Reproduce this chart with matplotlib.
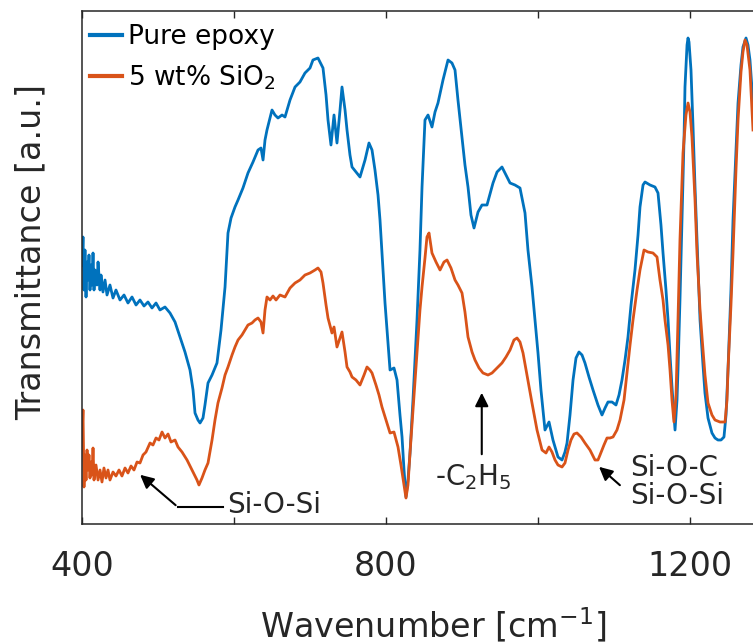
import numpy as np
import matplotlib
matplotlib.use("Agg")
from matplotlib import pyplot as plt

# ---- dati (numero d'onda in cm^-1, trasmittanza in u.a.) ----
w_epoxy = [400.0, 401.3, 402.6, 403.9, 405.3, 406.6, 407.9, 409.2, 410.5, 411.8,
           413.2, 414.5, 415.8, 417.1, 419.7, 421.1, 423.7, 425.0, 427.6, 430.3,
           432.9, 436.8, 440.8, 444.7, 450.0, 455.3, 460.5, 465.8, 471.1, 476.3,
           481.6, 486.8, 492.1, 497.4, 502.6, 509.2, 515.8, 522.4, 528.9, 535.5,
           542.1, 546.1, 548.7, 552.6, 555.3, 559.2, 561.8, 565.8, 571.1, 577.6,
           582.9, 588.2, 592.1, 596.1, 601.3, 605.3, 611.8, 618.4, 625.0, 631.6,
           635.5, 638.2, 640.8, 643.4, 647.4, 650.0, 653.9, 657.9, 663.2, 667.1,
           673.7, 680.3, 686.8, 693.4, 700.0, 703.9, 710.5, 717.1, 721.1, 723.7,
           727.6, 731.6, 735.5, 739.5, 742.1, 746.1, 748.7, 752.6, 755.3, 760.5,
           765.8, 772.4, 777.6, 781.6, 785.5, 789.5, 792.1, 798.7, 805.3, 810.5,
           814.5, 818.4, 821.1, 823.7, 826.3, 828.9, 831.6, 835.5, 840.8, 844.7,
           847.4, 851.3, 855.3, 860.5, 864.5, 868.4, 875.0, 881.6, 886.8, 890.8,
           894.7, 900.0, 903.9, 907.9, 911.8, 915.8, 921.1, 926.3, 932.9, 940.8,
           946.1, 952.6, 957.9, 963.2, 969.7, 976.3, 982.9, 986.8, 992.1, 996.1,
           1000.0, 1003.9, 1009.2, 1014.5, 1019.7, 1026.3, 1031.6, 1035.5, 1038.2, 1042.1,
           1046.1, 1050.0, 1053.9, 1057.9, 1061.8, 1067.1, 1072.4, 1078.9, 1084.2, 1088.2,
           1092.1, 1097.4, 1102.6, 1106.6, 1110.5, 1114.5, 1118.4, 1122.4, 1127.6, 1131.6,
           1134.2, 1138.2, 1140.8, 1147.4, 1153.9, 1157.9, 1161.8, 1164.5, 1168.4, 1171.1,
           1173.7, 1176.3, 1180.3, 1182.9, 1184.2, 1186.8, 1189.5, 1192.1, 1193.4, 1196.1,
           1197.4, 1198.7, 1201.3, 1203.9, 1206.6, 1210.5, 1213.2, 1217.1, 1219.7, 1223.7,
           1228.9, 1232.9, 1236.8, 1240.8, 1244.7, 1247.4, 1250.0, 1253.9, 1256.6, 1260.5,
           1263.2, 1267.1, 1269.7, 1273.7, 1276.3, 1278.9, 1282.9]
t_epoxy = [259, 287, 234, 274, 227, 262, 244, 269, 234, 259,
           239, 271, 234, 254, 239, 262, 234, 249, 232, 244,
           229, 239, 226, 234, 224, 229, 221, 227, 219, 224,
           218, 222, 216, 221, 214, 217, 211, 202, 187, 172,
           154, 134, 111, 104, 101, 106, 119, 141, 149, 161,
           194, 237, 291, 306, 317, 324, 336, 351, 362, 374,
           376, 364, 384, 394, 406, 414, 409, 406, 409, 407,
           424, 437, 442, 451, 456, 464, 466, 456, 429, 404,
           379, 409, 381, 414, 437, 414, 394, 369, 357, 352,
           347, 364, 381, 374, 354, 329, 304, 221, 154, 156,
           144, 109, 87, 54, 27, 44, 71, 124, 204, 274,
           337, 404, 409, 397, 412, 421, 444, 464, 461, 454,
           424, 387, 359, 337, 309, 296, 312, 319, 319, 341,
           352, 357, 349, 341, 339, 336, 311, 274, 237, 204,
           171, 134, 94, 102, 84, 67, 64, 72, 81, 109,
           144, 166, 172, 169, 161, 147, 134, 119, 109, 116,
           122, 122, 119, 129, 144, 164, 187, 219, 254, 289,
           317, 339, 342, 339, 337, 331, 299, 271, 234, 204,
           169, 137, 94, 124, 154, 224, 304, 384, 437, 479,
           486, 482, 454, 399, 337, 259, 204, 159, 131, 106,
           91, 86, 84, 84, 87, 109, 154, 234, 304, 374,
           421, 459, 477, 486, 479, 464, 421]

w_sio2 = [400.0, 401.3, 402.6, 403.9, 405.3, 406.6, 407.9, 409.2, 410.5, 411.8,
          413.2, 414.5, 415.8, 418.4, 421.1, 423.7, 426.3, 428.9, 431.6, 434.2,
          436.8, 440.8, 444.7, 448.7, 452.6, 456.6, 460.5, 464.5, 468.4, 472.4,
          476.3, 480.3, 484.2, 489.5, 493.4, 497.4, 501.3, 505.3, 509.2, 513.2,
          517.1, 522.4, 526.3, 531.6, 538.2, 544.7, 551.3, 553.9, 557.9, 561.8,
          565.8, 571.1, 575.0, 578.9, 584.2, 588.2, 592.1, 597.4, 601.3, 605.3,
          610.5, 614.5, 618.4, 623.7, 627.6, 631.6, 635.5, 638.2, 640.8, 643.4,
          647.4, 651.3, 655.3, 660.5, 667.1, 673.7, 680.3, 686.8, 693.4, 700.0,
          706.6, 710.5, 714.5, 717.1, 721.1, 723.7, 728.9, 731.6, 735.5, 739.5,
          742.1, 746.1, 748.7, 752.6, 755.3, 760.5, 765.8, 771.1, 775.0, 778.9,
          781.6, 786.8, 790.8, 794.7, 800.0, 805.3, 810.5, 815.8, 819.7, 823.7,
          826.3, 828.9, 831.6, 835.5, 840.8, 844.7, 847.4, 851.3, 853.9, 856.6,
          860.5, 865.8, 871.1, 876.3, 880.3, 885.5, 890.8, 894.7, 900.0, 903.9,
          907.9, 913.2, 917.1, 922.4, 927.6, 934.2, 939.5, 946.1, 952.6, 957.9,
          963.2, 968.4, 972.4, 976.3, 980.3, 985.5, 992.1, 998.7, 1005.3, 1010.5,
          1014.5, 1018.4, 1022.4, 1026.3, 1031.6, 1035.5, 1039.5, 1043.4, 1047.4, 1051.3,
          1056.6, 1061.8, 1068.4, 1075.0, 1078.9, 1081.6, 1086.8, 1090.8, 1094.7, 1098.7,
          1103.9, 1107.9, 1113.2, 1117.1, 1121.1, 1125.0, 1130.3, 1134.2, 1139.5, 1144.7,
          1151.3, 1156.6, 1160.5, 1164.5, 1167.1, 1171.1, 1173.7, 1176.3, 1178.9, 1181.6,
          1184.2, 1186.8, 1190.8, 1194.7, 1197.4, 1200.0, 1202.6, 1206.6, 1209.2, 1213.2,
          1215.8, 1219.7, 1223.7, 1228.9, 1232.9, 1239.5, 1246.1, 1248.7, 1250.0, 1253.9,
          1256.6, 1260.5, 1263.2, 1267.1, 1269.7, 1272.4, 1275.0, 1278.9, 1282.9]
t_sio2 = [84, 114, 37, 69, 44, 74, 54, 69, 46, 62,
          49, 76, 44, 59, 44, 54, 42, 56, 46, 54,
          44, 52, 48, 54, 48, 56, 51, 58, 54, 62,
          61, 69, 72, 81, 79, 86, 84, 92, 86, 90,
          82, 84, 77, 72, 64, 54, 44, 39, 46, 54,
          61, 84, 104, 121, 136, 149, 157, 169, 177, 184,
          189, 194, 199, 201, 204, 206, 202, 191, 214, 227,
          224, 228, 224, 229, 227, 236, 241, 244, 249, 251,
          254, 256, 252, 241, 219, 206, 191, 197, 177, 186,
          192, 172, 157, 152, 147, 144, 139, 149, 157, 154,
          151, 139, 129, 117, 104, 91, 92, 77, 59, 39,
          26, 39, 71, 114, 171, 214, 237, 266, 287, 291,
          271, 262, 254, 262, 264, 256, 244, 239, 231, 212,
          187, 172, 164, 156, 151, 149, 151, 156, 161, 167,
          174, 184, 186, 182, 171, 149, 121, 94, 74, 71,
          77, 72, 64, 59, 57, 61, 74, 84, 90, 91,
          87, 81, 74, 64, 64, 69, 79, 86, 86, 87,
          94, 104, 124, 151, 179, 204, 234, 254, 274, 272,
          271, 267, 244, 224, 204, 179, 154, 124, 102, 129,
          204, 284, 371, 409, 421, 412, 387, 324, 271, 214,
          187, 149, 121, 109, 104, 102, 102, 124, 154, 219,
          271, 354, 404, 452, 472, 484, 479, 454, 394]

labels = ['Pure epoxy', '5 wt% SiO$_2$']
colori = ['#0072BD', '#D95319']
grigio = '#262626'

fig = plt.figure(figsize=(7.53, 6.44), dpi=100)
ax = fig.add_axes([82/753, 120/644, 760/753, 513/644])

ax.plot(w_epoxy, t_epoxy, color=colori[0], lw=2.0, label=labels[0])
ax.plot(w_sio2, t_sio2, color=colori[1], lw=2.0, label=labels[1])

ax.set_xlim(400, 1400)
ax.set_ylim(0, 513)
ax.set_xticks([400, 600, 800, 1000, 1200, 1400])
ax.set_xticklabels(['400', '', '800', '', '1200', ''])
ax.set_yticks([])
ax.tick_params(axis='x', direction='in', top=True, length=5, width=1,
               labelsize=24, pad=19, colors=grigio)
for s in ['left', 'top', 'bottom']:
    ax.spines[s].set_color(grigio)
    ax.spines[s].set_linewidth(1.1)
ax.spines['right'].set_visible(False)

ax.set_xlabel('Wavenumber [cm$^{-1}$]', fontsize=24, color=grigio)
ax.xaxis.set_label_coords(0.462, -0.158)
ax.set_ylabel('Transmittance [a.u.]', fontsize=24, color=grigio)
ax.yaxis.set_label_coords(-0.045, 0.53)

leg = ax.legend(loc='upper left', bbox_to_anchor=(0.0105, 0.975), frameon=False,
                fontsize=19, handlelength=1.2, handletextpad=0.25, labelspacing=0.5,
                borderaxespad=0, borderpad=0)
for h in leg.get_lines():
    h.set_linewidth(3)

# annotazioni
freccia = dict(arrowstyle='-|>', color='k', lw=1.5, mutation_scale=20)
ax.plot([526, 585.5], [17, 17], color='k', lw=1.5)
ax.annotate('', xy=(473.7, 51), xytext=(526, 17), arrowprops=freccia)
ax.text(591, 11, 'Si-O-Si', fontsize=20, va='baseline', ha='left', color=grigio)

ax.annotate('', xy=(926, 134), xytext=(926, 67), arrowprops=freccia)
ax.text(914.5, 39, '-C$_2$H$_5$', fontsize=20, va='baseline', ha='center', color=grigio)

ax.annotate('', xy=(1077.6, 59), xytext=(1110.5, 37), arrowprops=freccia)
ax.text(1121, 48, 'Si-O-C', fontsize=20, va='baseline', ha='left', color=grigio)
ax.text(1121, 20, 'Si-O-Si', fontsize=20, va='baseline', ha='left', color=grigio)

fig.savefig('out.png', dpi=100)
